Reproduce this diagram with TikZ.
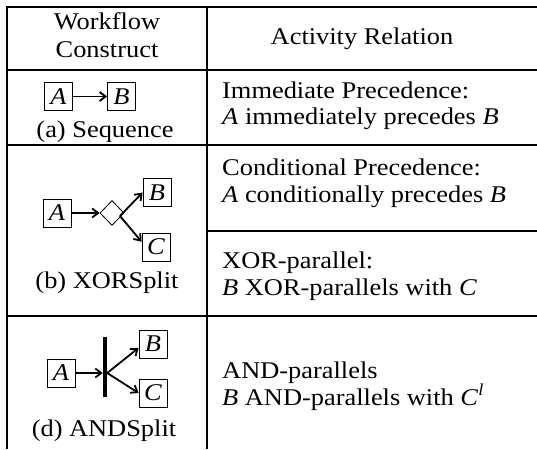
\documentclass[tikz,border=0pt]{standalone}
\usepackage{fontspec}
\setmainfont[FakeStretch=1.1]{Liberation Serif}
\usetikzlibrary{arrows.meta,shapes.geometric}

\begin{document}
\begin{tikzpicture}[x=1pt,y=-1pt,>={Straight Barb[length=6pt,width=9pt]},
  font=\fontsize{24}{27}\selectfont,
  grid line/.style={line width=2pt},
  act box/.style={draw,line width=0.8pt,minimum width=28pt,minimum height=28pt,
    inner sep=0pt,font=\fontsize{24}{27}\selectfont\itshape},
  flow/.style={->,line width=1.8pt},
  cap text/.style={anchor=base,inner sep=0pt},
  rel text/.style={anchor=base west,inner sep=0pt}]
  \useasboundingbox (0,0) rectangle (537,449);

  % table rules
  \draw[grid line] (7,449) -- (7,7) -- (537,7);
  \draw[grid line] (207,7) -- (207,449);
  \draw[grid line] (7,70) -- (537,70);
  \draw[grid line] (7,145) -- (537,145);
  \draw[grid line] (207,231) -- (537,231);
  \draw[grid line] (7,316) -- (537,316);

  % header
  \node[cap text] (hWork) at (107,30) {Workflow};
  \node[cap text] (hCons) at (107,58) {Construct};
  \node[cap text] (hRel) at (362,45) {Activity Relation};

  % (a) sequence
  \node[act box] (sA) at (58.5,96.5) {A};
  \node[act box] (sB) at (121.5,96.5) {B};
  \draw[flow] (sA) -- (sB);
  \node[cap text] (capSeq) at (105,138) {(a) Sequence};

  % (b) xor split
  \node[act box] (xA) at (57,213) {A};
  \node[draw,diamond,line width=0.8pt,minimum width=24pt,minimum height=25pt,
    inner sep=0pt] (xor) at (112,213) {};
  \node[act box] (xB) at (157,192.5) {B};
  \node[act box] (xC) at (156,247) {C};
  \draw[flow] (xA) -- (xor);
  \coordinate (xfork) at (120,216);
  \draw[flow] (xfork) -- (xB.west);
  \draw[flow] (xfork) -- (xC.160);
  \node[cap text] (capXor) at (107,288) {(b) XORSplit};

  % (d) and split
  \node[act box] (aA) at (61,373) {A};
  \node[fill,minimum width=4pt,minimum height=60pt,inner sep=0pt] (andbar) at (105,367) {};
  \node[act box] (aB) at (153,344) {B};
  \node[act box] (aC) at (153,393) {C};
  \draw[flow] (aA) -- (aA -| andbar.west);
  \coordinate (afork) at (aA -| andbar.east);
  \draw[flow] (afork) -- (aB.195);
  \draw[flow] (afork) -- (aC.west);
  \node[cap text] (capAnd) at (104,436) {(d) ANDSplit};

  % relations
  \node[rel text] (relImm) at (222,99) {Immediate Precedence:};
  \node[rel text] (relImmB) at (222,125) {\textit{A} immediately precedes \textit{B}};
  \node[rel text] (relCond) at (222,175) {Conditional Precedence:};
  \node[rel text] (relCondB) at (222,202) {\textit{A} conditionally precedes \textit{B}};
  \node[rel text] (relXor) at (222,268) {XOR-parallel:};
  \node[rel text] (relXorB) at (222,295) {\textit{B} XOR-parallels with \textit{C}};
  \node[rel text] (relAnd) at (222,378) {AND-parallels};
  \node[rel text] (relAndB) at (222,405) {\textit{B} AND-parallels with \textit{C}\textsuperscript{\textit{l}}};
\end{tikzpicture}
\end{document}
